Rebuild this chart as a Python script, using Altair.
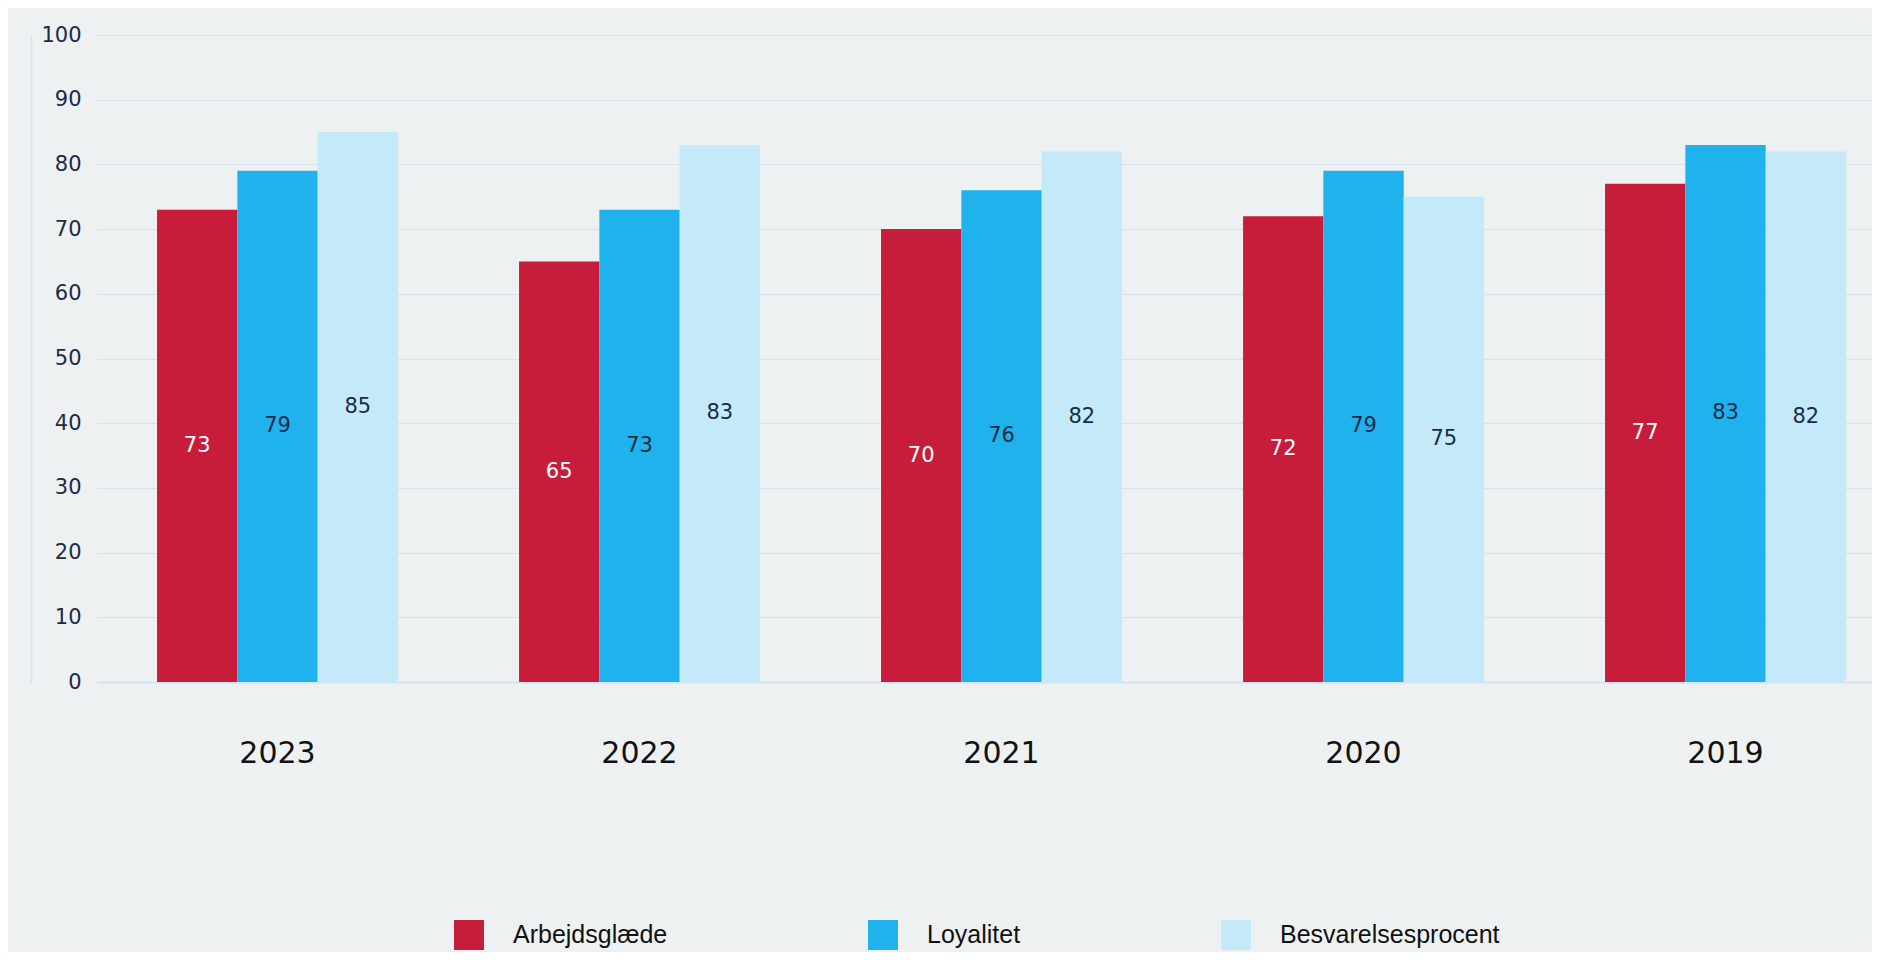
import altair as alt
import pandas as pd

years = ["2023", "2022", "2021", "2020", "2019"]
series = ["Arbejdsglæde", "Loyalitet", "Besvarelsesprocent"]
arbejdsglaede = [73, 65, 70, 72, 77]
loyalitet = [79, 73, 76, 79, 83]
besvarelsesprocent = [85, 83, 82, 75, 82]
colors = ["#C81D3A", "#1FB2EC", "#C4E9F9"]

rows = []
for s, vals in zip(series, [arbejdsglaede, loyalitet, besvarelsesprocent]):
    for y, v in zip(years, vals):
        rows.append({"År": y, "Serie": s, "Værdi": v})
df = pd.DataFrame(rows)

BG = "#EDF1F2"
NAVY = "#1B2B45"
GRID = "#D4E3EF"

x_enc = alt.X(
    "År:N", sort=years, title=None,
    scale=alt.Scale(paddingInner=0.3343, paddingOuter=0.1188, align=0.698),
    axis=alt.Axis(labelAngle=0, labelFont="DejaVu Sans", labelFontSize=30,
                  labelColor="#111111", labelPadding=56, ticks=False,
                  domainColor=GRID, domainWidth=2, grid=False),
)
xoff = alt.XOffset("Serie:N", sort=series, scale=alt.Scale(paddingInner=0, paddingOuter=0))

bars = alt.Chart(df).mark_bar(strokeWidth=0).encode(
    x=x_enc,
    xOffset=xoff,
    y=alt.Y("Værdi:Q", title=None,
            scale=alt.Scale(domain=[0, 100]),
            axis=alt.Axis(values=list(range(0, 101, 10)), ticks=False, tickSize=0,
                          labelFont="DejaVu Sans", labelFontSize=21, labelColor=NAVY,
                          labelPadding=-50, offset=66, domainColor=GRID, domainWidth=1.5,
                          gridColor=GRID, gridWidth=1)),
    color=alt.Color("Serie:N", sort=series, title=None,
                    scale=alt.Scale(domain=series, range=colors),
                    legend=alt.Legend(orient="none", direction="horizontal",
                                      legendX=357, legendY=885, padding=0,
                                      symbolType="square", symbolSize=900,
                                      symbolStrokeWidth=0, symbolOpacity=1,
                                      labelFont="Liberation Sans", labelFontSize=25,
                                      labelColor="#111111", labelOffset=29,
                                      columnPadding=200, labelLimit=400)),
)

labels = alt.Chart(df).transform_calculate(
    mid="datum['Værdi'] / 2"
).mark_text(font="DejaVu Sans", fontSize=21, baseline="middle", align="center").encode(
    x=alt.X("År:N", sort=years),
    xOffset=alt.XOffset("Serie:N", sort=series),
    y=alt.Y("mid:Q"),
    text=alt.Text("Værdi:Q"),
    color=alt.condition("datum['Serie'] == 'Arbejdsglæde'", alt.value("#FFFFFF"), alt.value(NAVY)),
)

chart = alt.layer(bars, labels).properties(
    width=1775, height=647,
    background=BG,
    autosize=alt.AutoSizeParams(type="none"),
    padding={"left": 89, "top": 27, "right": 0, "bottom": 270},
).configure_view(stroke=None)

chart.save("out.html", embed_options={"renderer": "svg", "actions": False})
